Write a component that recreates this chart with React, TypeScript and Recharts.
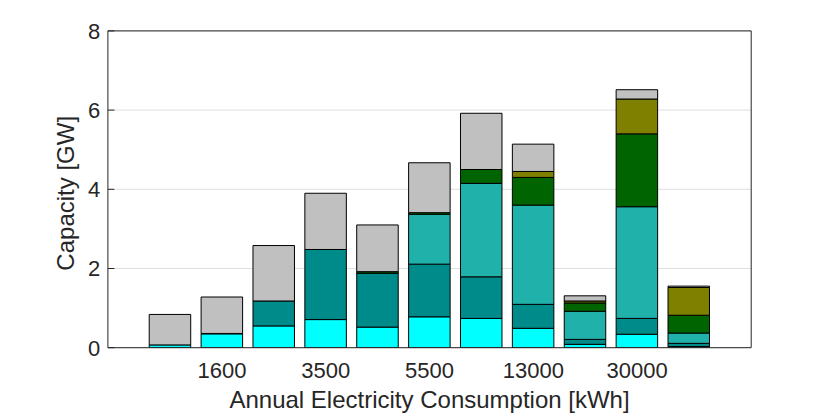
import React from 'react';
import { ComposedChart, Bar, XAxis, YAxis, CartesianGrid } from 'recharts';

const xPositions = [1, 2, 3, 4, 5, 6, 7, 8, 9, 10, 11];
const xTickValues = [2, 4, 6, 8, 10];
const xTickLabels = ['1600', '3500', '5500', '13000', '30000'];
const yTickValues = [0, 2, 4, 6, 8];

const cyanVals = [0.07, 0.35, 0.55, 0.71, 0.52, 0.78, 0.74, 0.49, 0.085, 0.34, 0.03];
const darkCyanVals = [0, 0.01, 0.63, 1.77, 1.36, 1.33, 1.05, 0.605, 0.125, 0.4, 0.08];
const seaGreenVals = [0, 0, 0, 0, 0, 1.26, 2.36, 2.505, 0.71, 2.82, 0.26];
const darkGreenVals = [0, 0, 0, 0, 0.04, 0.04, 0.35, 0.7, 0.21, 1.84, 0.45];
const oliveVals = [0, 0, 0, 0, 0, 0, 0, 0.15, 0.05, 0.88, 0.7];
const silverVals = [0.77, 0.92, 1.4, 1.42, 1.18, 1.26, 1.42, 0.69, 0.13, 0.235, 0.035];

const seriesKeys = ['cyan', 'darkcyan', 'seagreen', 'darkgreen', 'olive', 'silver'];
const seriesColors = ['#00FFFF', '#008B8B', '#20B2AA', '#006400', '#808000', '#C0C0C0'];
const seriesValues = [cyanVals, darkCyanVals, seaGreenVals, darkGreenVals, oliveVals, silverVals];

const data = xPositions.map((x, i) => {
  const row: Record<string, number> = { x };
  seriesKeys.forEach((k, s) => {
    row[k] = seriesValues[s][i];
  });
  return row;
});

const FONT = '"Liberation Sans", Arial, Helvetica, sans-serif';
const TXT = '#262626';
const AX = '#262626';

export default function App() {
  return (
    <div style={{ position: 'absolute', left: 0, top: 0, width: 830, height: 415, background: '#fff' }}>
      <ComposedChart
        width={830}
        height={415}
        data={data}
        margin={{ top: 29.9, right: 77.8, bottom: 0, left: 0 }}
        style={{ fontFamily: FONT }}
      >
        <CartesianGrid
          xAxisId="bottom"
          yAxisId="left"
          vertical={false}
          stroke="#dfdfdf"
          strokeWidth={1}
        />
        <XAxis
          xAxisId="bottom"
          type="number"
          dataKey="x"
          domain={[-0.2, 12.2]}
          allowDataOverflow
          ticks={xTickValues}
          interval={0}
          tickFormatter={(v: number) => xTickLabels[xTickValues.indexOf(v)] ?? ''}
          height={67.3}
          tickSize={0}
          tickMargin={14.5}
          tickLine={false}
          axisLine={{ stroke: AX, strokeWidth: 1 }}
          tick={{ fill: TXT, fontSize: 22, fontFamily: FONT }}
          label={{
            value: 'Annual Electricity Consumption [kWh]',
            position: 'insideBottom',
            offset: 7,
            fill: TXT,
            fontSize: 24,
            fontFamily: FONT,
          }}
        />
        <XAxis
          xAxisId="top"
          orientation="top"
          type="number"
          dataKey="x"
          domain={[-0.2, 12.2]}
          allowDataOverflow
          ticks={xTickValues}
          interval={0}
          height={1}
          tick={false}
          tickSize={-6.5}
          tickLine={{ stroke: AX, strokeWidth: 1 }}
          axisLine={{ stroke: AX, strokeWidth: 1 }}
        />
        <YAxis
          yAxisId="left"
          type="number"
          domain={[0, 8]}
          allowDataOverflow
          ticks={yTickValues}
          interval={0}
          width={107.9}
          tickSize={-6.5}
          tickMargin={14.2}
          tickLine={{ stroke: AX, strokeWidth: 1 }}
          axisLine={{ stroke: AX, strokeWidth: 1 }}
          tick={{ fill: TXT, fontSize: 22, fontFamily: FONT }}
          label={{
            value: 'Capacity [GW]',
            content: (props: any) => {
              const vb = props.viewBox || {};
              const cy = (vb.y ?? 0) + (vb.height ?? 0) / 2 + 4;
              const cx = 74;
              return (
                <text
                  x={cx}
                  y={cy}
                  transform={`rotate(-90, ${cx}, ${cy})`}
                  textAnchor="middle"
                  fill={TXT}
                  fontSize={24}
                  fontFamily={FONT}
                >
                  Capacity [GW]
                </text>
              );
            },
          }}
        />
        <YAxis
          yAxisId="right"
          orientation="right"
          type="number"
          domain={[0, 8]}
          allowDataOverflow
          ticks={yTickValues}
          interval={0}
          width={1}
          tick={false}
          tickSize={-6.5}
          tickLine={{ stroke: AX, strokeWidth: 1 }}
          axisLine={{ stroke: AX, strokeWidth: 1 }}
        />
        {seriesKeys.map((k, s) => (
          <Bar
            key={k}
            dataKey={k}
            stackId="a"
            xAxisId="bottom"
            yAxisId="left"
            fill={seriesColors[s]}
            stroke="#000"
            strokeWidth={1}
            barSize={41.5}
            isAnimationActive={false}
          />
        ))}
      </ComposedChart>
    </div>
  );
}
